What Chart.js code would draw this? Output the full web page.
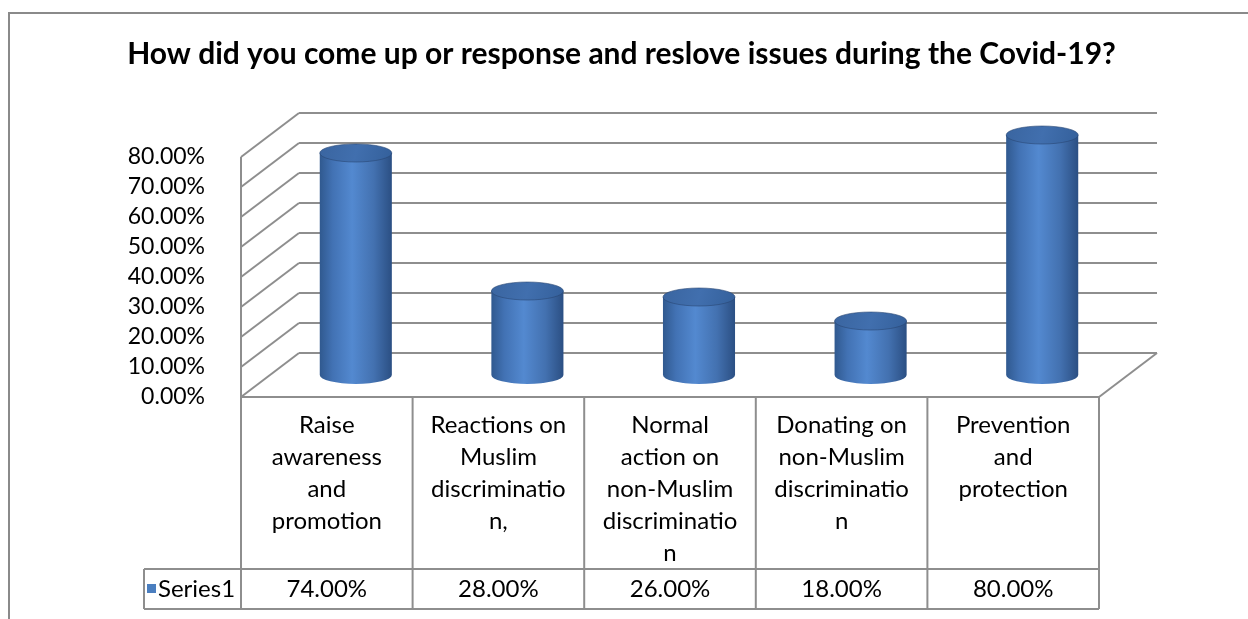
<!DOCTYPE html>
<html>
<head>
<meta charset="utf-8">
<script src="https://cdn.jsdelivr.net/npm/chart.js@4.4.1/dist/chart.umd.min.js"></script>
<style>
  html, body { margin: 0; padding: 0; background: #fff; }
  canvas { display: block; }
</style>
</head>
<body>
<canvas id="chart" width="1248" height="619"></canvas>
<script>
// data
var categories = [
    ['Raise', 'awareness', 'and', 'promotion'],
    ['Reactions on', 'Muslim', 'discriminatio', 'n,'],
    ['Normal', 'action on', 'non-Muslim', 'discriminatio', 'n'],
    ['Donating on', 'non-Muslim', 'discriminatio', 'n'],
    ['Prevention', 'and', 'protection']
];
var seriesName = 'Series1';
var seriesValues = [0.74, 0.28, 0.26, 0.18, 0.80];
var yTicks = [0, 0.1, 0.2, 0.3, 0.4, 0.5, 0.6, 0.7, 0.8];
var titleText = 'How did you come up or response and reslove issues during the Covid-19?';

var FONT = 'Lato, "Open Sans", sans-serif';
var GRID = '#8e8e8e';
var DEPTH_X = 58, DEPTH_Y = 44;   // 3d wall offset

function pct(v) {
    return (v * 100).toFixed(2) + '%';
}

function line(ctx, x1, y1, x2, y2) {
    ctx.beginPath();
    ctx.moveTo(x1, y1);
    ctx.lineTo(x2, y2);
    ctx.stroke();
}

// back wall, side wall and floor
var wallsPlugin = {
    id: 'walls',
    beforeDatasetsDraw: function(chart) {
        var ctx = chart.ctx, y = chart.scales.y, a = chart.chartArea;
        ctx.save();
        ctx.strokeStyle = GRID;
        ctx.lineWidth = 2;
        yTicks.forEach(function(v) {
            var py = y.getPixelForValue(v);
            line(ctx, a.left, py, a.left + DEPTH_X, py - DEPTH_Y);
            line(ctx, a.left + DEPTH_X, py - DEPTH_Y, a.right + DEPTH_X, py - DEPTH_Y);
        });
        line(ctx, a.left, a.top, a.left, a.bottom);
        line(ctx, a.right, a.bottom, a.right + DEPTH_X, a.bottom - DEPTH_Y);
        ctx.restore();
    }
};

// cylinders drawn over the bar elements
var cylinderPlugin = {
    id: 'cylinders',
    afterDatasetsDraw: function(chart) {
        var ctx = chart.ctx;
        var meta = chart.getDatasetMeta(0);
        meta.data.forEach(function(bar) {
            var p = bar.getProps(['x', 'y', 'base', 'width'], true);
            var rx = p.width / 2, ry = 9;
            var cx = p.x + DEPTH_X / 2;
            var ty = p.y - DEPTH_Y / 2;
            var by = p.base - DEPTH_Y / 2;

            var g = ctx.createLinearGradient(cx - rx, 0, cx + rx, 0);
            g.addColorStop(0, '#30598f');
            g.addColorStop(0.18, '#4272b4');
            g.addColorStop(0.45, '#5389d0');
            g.addColorStop(0.75, '#4371b0');
            g.addColorStop(1, '#2b4f83');

            ctx.save();
            ctx.beginPath();
            ctx.moveTo(cx - rx, ty);
            ctx.lineTo(cx - rx, by);
            ctx.ellipse(cx, by, rx, ry, 0, Math.PI, 0, true);
            ctx.lineTo(cx + rx, ty);
            ctx.closePath();
            ctx.fillStyle = g;
            ctx.fill();

            var gt = ctx.createLinearGradient(cx - rx, ty - ry, cx + rx, ty + ry);
            gt.addColorStop(0, '#3a65a0');
            gt.addColorStop(0.5, '#416fae');
            gt.addColorStop(1, '#34609b');
            ctx.beginPath();
            ctx.ellipse(cx, ty, rx, ry, 0, 0, Math.PI * 2);
            ctx.fillStyle = gt;
            ctx.fill();
            ctx.strokeStyle = 'rgba(40,70,115,0.6)';
            ctx.lineWidth = 1;
            ctx.stroke();
            ctx.restore();
        });
    }
};

// data table under the plot and the outer frame
var tablePlugin = {
    id: 'dataTable',
    afterDraw: function(chart) {
        var ctx = chart.ctx, x = chart.scales.x, a = chart.chartArea;
        var rowTop = a.bottom, rowMid = 569, rowBottom = 609, keyLeft = 144;
        ctx.save();
        ctx.strokeStyle = GRID;
        ctx.lineWidth = 2;
        line(ctx, a.left, rowTop, a.right, rowTop);
        line(ctx, keyLeft, rowMid, a.right, rowMid);
        line(ctx, keyLeft, rowBottom, a.right, rowBottom);
        line(ctx, keyLeft, rowMid, keyLeft, rowBottom);
        var step = (a.right - a.left) / categories.length;
        for (var i = 0; i <= categories.length; i++) {
            var bx = a.left + i * step;
            line(ctx, bx, rowTop, bx, rowBottom);
        }

        ctx.fillStyle = '#000';
        ctx.font = '24px ' + FONT;
        ctx.textBaseline = 'middle';
        ctx.textAlign = 'center';
        var vy = (rowMid + rowBottom) / 2;
        seriesValues.forEach(function(v, i) {
            ctx.fillText(pct(v), x.getPixelForTick(i), vy);
        });

        ctx.fillStyle = '#4a7ebf';
        ctx.fillRect(keyLeft + 3, vy - 5, 9, 9);
        ctx.fillStyle = '#000';
        ctx.textAlign = 'left';
        ctx.fillText(seriesName, keyLeft + 14, vy);

        // outer chart border (clipped at right and bottom)
        ctx.strokeStyle = '#8a8a8a';
        ctx.beginPath();
        ctx.moveTo(9, chart.height);
        ctx.lineTo(9, 13);
        ctx.lineTo(chart.width, 13);
        ctx.stroke();
        ctx.restore();
    }
};

new Chart(document.getElementById('chart'), {
    type: 'bar',
    data: {
        labels: categories,
        datasets: [{
            label: seriesName,
            data: seriesValues,
            backgroundColor: 'rgba(0,0,0,0)',
            borderWidth: 0,
            categoryPercentage: 1,
            barPercentage: 0.42
        }]
    },
    options: {
        responsive: false,
        animation: false,
        devicePixelRatio: 1,
        layout: { padding: { left: 0, right: 5, top: 0, bottom: 0 } },
        plugins: {
            legend: { display: false },
            tooltip: { enabled: false },
            title: {
                display: true,
                text: titleText,
                color: '#000',
                font: { family: FONT, size: 30, weight: 'bold', lineHeight: 1.2 },
                padding: { top: 36, bottom: 85 }
            }
        },
        scales: {
            x: {
                position: 'bottom',
                grid: { display: false },
                border: { display: false },
                ticks: {
                    color: '#000',
                    font: { family: FONT, size: 24, lineHeight: 1.333 },
                    autoSkip: false,
                    maxRotation: 0,
                    minRotation: 0,
                    padding: 4
                },
                afterFit: function(scale) { scale.height = 222; }
            },
            y: {
                position: 'left',
                min: 0,
                max: 0.8,
                grid: { display: false },
                border: { display: false },
                ticks: {
                    stepSize: 0.1,
                    autoSkip: false,
                    color: '#000',
                    font: { family: FONT, size: 23 },
                    padding: 28,
                    callback: function(v) { return pct(v); }
                },
                afterFit: function(scale) { scale.width = 241; }
            },
            yRight: {
                position: 'right',
                display: true,
                grid: { display: false },
                border: { display: false },
                ticks: { display: false },
                afterFit: function(scale) { scale.width = 144; }
            }
        }
    },
    plugins: [wallsPlugin, cylinderPlugin, tablePlugin]
});
</script>
</body>
</html>
